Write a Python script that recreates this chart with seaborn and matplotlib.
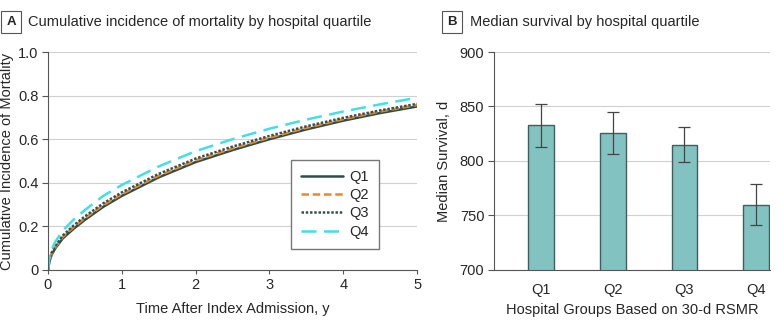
import numpy as np
import pandas as pd
import matplotlib
matplotlib.use("Agg")
import matplotlib.pyplot as plt
import seaborn as sns

# Panel A: cumulative incidence
years = [0, 0.02, 0.05, 0.1, 0.2, 0.35, 0.5, 0.75, 1, 1.5, 2, 2.5, 3, 3.5, 4, 4.5, 5]
q1_inc = [0, 0.040, 0.070, 0.100, 0.145, 0.190, 0.230, 0.290, 0.340, 0.425, 0.495, 0.550, 0.600, 0.645, 0.685, 0.720, 0.750]
q2_inc = [0, 0.045, 0.075, 0.105, 0.152, 0.198, 0.238, 0.298, 0.348, 0.433, 0.503, 0.558, 0.607, 0.652, 0.692, 0.727, 0.757]
q3_inc = [0, 0.050, 0.080, 0.110, 0.158, 0.205, 0.246, 0.306, 0.356, 0.441, 0.511, 0.566, 0.615, 0.659, 0.698, 0.732, 0.762]
q4_inc = [0, 0.060, 0.095, 0.130, 0.180, 0.232, 0.275, 0.340, 0.390, 0.475, 0.545, 0.600, 0.648, 0.690, 0.727, 0.760, 0.790]

# Panel B: median survival with CI
quartiles = ["Q1", "Q2", "Q3", "Q4"]
median_surv = [833, 826, 815, 760]
ci_low = [813, 806, 799, 741]
ci_high = [852, 845, 831, 779]

sns.set_style("white")
plt.rcParams['font.family'] = ['Liberation Sans', 'DejaVu Sans']
plt.rcParams['font.size'] = 10

curves = pd.concat([
    pd.DataFrame({'t': years, 'inc': v, 'grp': g})
    for g, v in zip(quartiles, [q1_inc, q2_inc, q3_inc, q4_inc])
])

fig = plt.figure(figsize=(7.83, 3.24), dpi=100)
ax1 = fig.add_axes([0.0613, 0.1667, 0.4713, 0.6728])
ax2 = fig.add_axes([0.6309, 0.1667, 0.3525, 0.6728])

line_colors = {'Q1': '#2e4d48', 'Q2': '#e8892c', 'Q3': '#3a4f50', 'Q4': '#3fe0e6'}
line_dash = {'Q1': '', 'Q2': (3, 1.5), 'Q3': (1, 0.7), 'Q4': (6, 3)}
sns.lineplot(data=curves, x='t', y='inc', hue='grp', style='grp',
             palette=line_colors, dashes=line_dash, linewidth=1.8, ax=ax1)

ax1.set_xlim(0, 5)
ax1.set_ylim(0, 1.0)
ax1.set_yticks([0, 0.2, 0.4, 0.6, 0.8, 1.0])
ax1.set_yticklabels(['0', '0.2', '0.4', '0.6', '0.8', '1.0'])
ax1.set_xticks([0, 1, 2, 3, 4, 5])
ax1.set_xlabel('Time After Index Admission, y', fontsize=10.5, labelpad=7)
ax1.set_ylabel('Cumulative Incidence of Mortality', fontsize=10.5, labelpad=3)
ax1.legend(title=None, loc='lower right', bbox_to_anchor=(0.897, 0.096),
           fancybox=False, edgecolor='#777777', framealpha=1, handlelength=2.9,
           fontsize=10.5, borderpad=0.7, labelspacing=0.3, handletextpad=0.4,
           borderaxespad=0)

# bars
sns.barplot(x=quartiles, y=median_surv, color='#82c3c1', edgecolor='#3f5f5e',
            linewidth=1.0, width=0.36, saturation=1, ax=ax2)
yerr = [np.array(median_surv) - np.array(ci_low), np.array(ci_high) - np.array(median_surv)]
ax2.errorbar(range(len(quartiles)), median_surv, yerr=yerr, fmt='none',
             ecolor='#444444', elinewidth=0.9, capsize=4, capthick=0.9)
ax2.set_xlim(-0.65, 3.19)
ax2.set_ylim(700, 900)
ax2.set_yticks([700, 750, 800, 850, 900])
ax2.set_xlabel('Hospital Groups Based on 30-d RSMR', fontsize=10.5, labelpad=4)
ax2.set_ylabel('Median Survival, d', fontsize=10.5, labelpad=6)

for ax in (ax1, ax2):
    ax.grid(axis='y', color='#d0d0d0', linewidth=0.8)
    ax.set_axisbelow(True)
    sns.despine(ax=ax)
    for s in ('left', 'bottom'):
        ax.spines[s].set_color('#555555')
        ax.spines[s].set_linewidth(0.8)
    ax.tick_params(axis='y', left=True, length=4, color='#555555', labelsize=10.5, pad=3)
ax1.tick_params(axis='x', bottom=True, length=3, color='#555555', labelsize=10.5, pad=3)
ax2.tick_params(axis='x', bottom=False, labelsize=10.5, pad=6)

box = dict(boxstyle='square,pad=0.4', facecolor='white', edgecolor='#555555', linewidth=0.8)
fig.text(11 / 783, 1 - 22 / 324, 'A', fontsize=9.5, fontweight='bold', ha='center', va='center', bbox=box)
fig.text(28 / 783, 1 - 22 / 324, 'Cumulative incidence of mortality by hospital quartile', fontsize=10.5, va='center')
fig.text(452 / 783, 1 - 22 / 324, 'B', fontsize=9.5, fontweight='bold', ha='center', va='center', bbox=box)
fig.text(470 / 783, 1 - 22 / 324, 'Median survival by hospital quartile', fontsize=10.5, va='center')

fig.savefig('out.png', dpi=100)
